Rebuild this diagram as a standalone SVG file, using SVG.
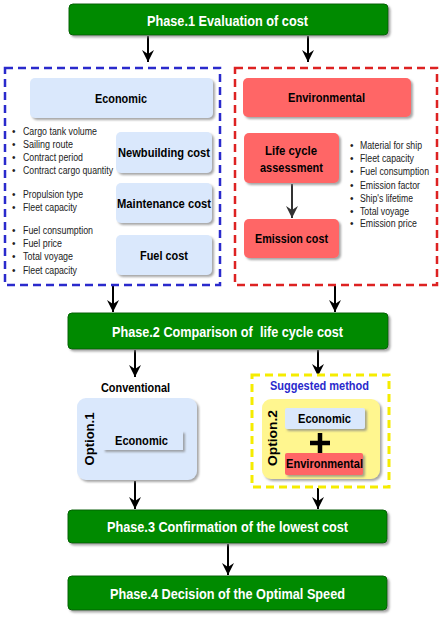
<svg xmlns="http://www.w3.org/2000/svg" width="443" height="620" viewBox="0 0 443 620">
<defs>
<filter id="sh" x="-10%" y="-10%" width="130%" height="140%">
<feDropShadow dx="2" dy="2" stdDeviation="0.8" flood-color="#808080" flood-opacity="0.7"/>
</filter>
<marker id="arr" markerUnits="userSpaceOnUse" markerWidth="14" markerHeight="14" viewBox="0 0 14 14" refX="12" refY="7" orient="auto">
<path d="M0,1 L12,7 L0,13 L4,7 Z" fill="#000"/>
</marker>
<marker id="arrg" markerUnits="userSpaceOnUse" markerWidth="14" markerHeight="14" viewBox="0 0 14 14" refX="12" refY="7" orient="auto">
<path d="M0,1 L12,7 L0,13 L4,7 Z" fill="#333"/>
</marker>
</defs>
<style>
text{font-family:"Liberation Sans",Arial,sans-serif;}
.phase{fill:#008a00;stroke:#006400;stroke-width:1;filter:url(#sh);}
.pt{fill:#fff;font-size:15px;font-weight:bold;text-anchor:middle;dominant-baseline:central;}
.blue{fill:#dae8fc;filter:url(#sh);}
.red{fill:#ff6666;filter:url(#sh);}
.bt{fill:#000;font-size:13px;font-weight:bold;text-anchor:middle;dominant-baseline:central;}
.bul{fill:#222;font-size:10px;dominant-baseline:central;}
.conn{stroke:#000;stroke-width:2;fill:none;marker-end:url(#arr);}
</style>
<rect width="443" height="620" fill="#fff"/>

<g id="connectors">
<line class="conn" x1="148" y1="36" x2="148" y2="62"/>
<line class="conn" x1="308" y1="36" x2="308" y2="62"/>
<line class="conn" x1="113" y1="286" x2="113" y2="312"/>
<line class="conn" x1="335" y1="286" x2="335" y2="312"/>
<line class="conn" x1="135" y1="350" x2="135" y2="377"/>
<line class="conn" x1="318" y1="350" x2="318" y2="376"/>
<line class="conn" x1="292" y1="184" x2="292" y2="218" style="stroke:#333;marker-end:url(#arrg)"/>
<line class="conn" x1="135" y1="481" x2="135" y2="509"/>
<line class="conn" x1="318" y1="488" x2="318" y2="509"/>
<line class="conn" x1="228" y1="544" x2="228" y2="575"/>
</g>

<g id="phase1">
<rect class="phase" x="69" y="4" width="319" height="31" rx="4"/>
<text class="pt" x="227.5" y="20" textLength="161" lengthAdjust="spacingAndGlyphs">Phase.1 Evaluation of cost</text>
</g>

<g id="economic-group">
<rect x="5" y="68" width="215" height="217" fill="none" stroke="#2a2acc" stroke-width="2.5" stroke-dasharray="8,5"/>
<g id="economic-header">
<rect class="blue" x="30" y="78" width="183" height="40" rx="5"/>
<text class="bt" x="121" y="98" textLength="52" lengthAdjust="spacingAndGlyphs">Economic</text>
</g>
<g id="newbuilding">
<rect class="blue" x="116" y="132" width="96" height="41" rx="5"/>
<text class="bt" x="164" y="152.5" textLength="92" lengthAdjust="spacingAndGlyphs">Newbuilding cost</text>
</g>
<g id="maintenance">
<rect class="blue" x="116" y="183" width="96" height="40" rx="5"/>
<text class="bt" x="164" y="203" textLength="94" lengthAdjust="spacingAndGlyphs">Maintenance cost</text>
</g>
<g id="fuel">
<rect class="blue" x="116" y="235" width="96" height="40" rx="5"/>
<text class="bt" x="164" y="255" textLength="48" lengthAdjust="spacingAndGlyphs">Fuel cost</text>
</g>
<g id="economic-bullets">
<text class="bul" x="12" y="131">•</text><text class="bul" x="23" y="131" textLength="74" lengthAdjust="spacingAndGlyphs">Cargo tank volume</text>
<text class="bul" x="12" y="144">•</text><text class="bul" x="23" y="144" textLength="50" lengthAdjust="spacingAndGlyphs">Sailing route</text>
<text class="bul" x="12" y="157">•</text><text class="bul" x="23" y="157" textLength="60" lengthAdjust="spacingAndGlyphs">Contract period</text>
<text class="bul" x="12" y="170">•</text><text class="bul" x="23" y="170" textLength="90" lengthAdjust="spacingAndGlyphs">Contract cargo quantity</text>
<text class="bul" x="12" y="194">•</text><text class="bul" x="23" y="194" textLength="60" lengthAdjust="spacingAndGlyphs">Propulsion type</text>
<text class="bul" x="12" y="207">•</text><text class="bul" x="23" y="207" textLength="54" lengthAdjust="spacingAndGlyphs">Fleet capacity</text>
<text class="bul" x="12" y="230">•</text><text class="bul" x="23" y="230" textLength="70" lengthAdjust="spacingAndGlyphs">Fuel consumption</text>
<text class="bul" x="12" y="243">•</text><text class="bul" x="23" y="243" textLength="39" lengthAdjust="spacingAndGlyphs">Fuel price</text>
<text class="bul" x="12" y="256">•</text><text class="bul" x="23" y="256" textLength="50" lengthAdjust="spacingAndGlyphs">Total voyage</text>
<text class="bul" x="12" y="270">•</text><text class="bul" x="23" y="270" textLength="54" lengthAdjust="spacingAndGlyphs">Fleet capacity</text>
</g>
</g>

<g id="environmental-group">
<rect x="235" y="68" width="202" height="217" fill="none" stroke="#dd2222" stroke-width="2.5" stroke-dasharray="8,5"/>
<g id="environmental-header">
<rect class="red" x="243" y="78" width="168" height="39" rx="5"/>
<text class="bt" x="326.5" y="97.5" textLength="77" lengthAdjust="spacingAndGlyphs">Environmental</text>
</g>
<g id="lca">
<rect class="red" x="244" y="133" width="95" height="50" rx="5"/>
<text class="bt" x="291" y="150" textLength="52" lengthAdjust="spacingAndGlyphs">Life cycle</text>
<text class="bt" x="291.5" y="167" textLength="63" lengthAdjust="spacingAndGlyphs">assessment</text>
</g>
<g id="emission">
<rect class="red" x="244" y="219" width="95" height="39" rx="5"/>
<text class="bt" x="291.5" y="238.5" textLength="73" lengthAdjust="spacingAndGlyphs">Emission cost</text>
</g>
<g id="environmental-bullets">
<text class="bul" x="350" y="145">•</text><text class="bul" x="360" y="145" textLength="62" lengthAdjust="spacingAndGlyphs">Material for ship</text>
<text class="bul" x="350" y="158">•</text><text class="bul" x="360" y="158" textLength="54" lengthAdjust="spacingAndGlyphs">Fleet capacity</text>
<text class="bul" x="350" y="171">•</text><text class="bul" x="360" y="171" textLength="69" lengthAdjust="spacingAndGlyphs">Fuel consumption</text>
<text class="bul" x="350" y="185">•</text><text class="bul" x="360" y="185" textLength="60" lengthAdjust="spacingAndGlyphs">Emission factor</text>
<text class="bul" x="350" y="198">•</text><text class="bul" x="360" y="198" textLength="53" lengthAdjust="spacingAndGlyphs">Ship's lifetime</text>
<text class="bul" x="350" y="211">•</text><text class="bul" x="360" y="211" textLength="49" lengthAdjust="spacingAndGlyphs">Total voyage</text>
<text class="bul" x="350" y="223">•</text><text class="bul" x="360" y="223" textLength="57" lengthAdjust="spacingAndGlyphs">Emission price</text>
</g>
</g>

<g id="phase2">
<rect class="phase" x="68" y="313" width="320" height="36" rx="4"/>
<text class="pt" x="227.5" y="331" xml:space="preserve" textLength="231" lengthAdjust="spacingAndGlyphs">Phase.2 Comparison of  life cycle cost</text>
</g>

<g id="option1">
<text class="bt" x="135.5" y="387" textLength="69" lengthAdjust="spacingAndGlyphs">Conventional</text>
<rect class="blue" x="77" y="398" width="120" height="82" rx="9"/>
<text class="bt" transform="translate(89,439) rotate(-90)" textLength="53" lengthAdjust="spacingAndGlyphs">Option.1</text>
<rect x="103" y="431" width="80" height="19" fill="#dae8fc" filter="url(#sh)"/>
<text class="bt" style="font-size:12px" x="141.5" y="440.5" textLength="53" lengthAdjust="spacingAndGlyphs">Economic</text>
</g>

<g id="option2">
<rect x="252" y="375" width="137" height="112" fill="none" stroke="#f5ec00" stroke-width="3" stroke-dasharray="8,5"/>
<text class="bt" style="fill:#2a2acc;font-size:12px" x="319.5" y="386" textLength="99" lengthAdjust="spacingAndGlyphs">Suggested method</text>
<rect x="262" y="399" width="118" height="80" rx="9" fill="#fff68f" filter="url(#sh)"/>
<text class="bt" transform="translate(272,438) rotate(-90)" textLength="56" lengthAdjust="spacingAndGlyphs">Option.2</text>
<rect x="285" y="408" width="80" height="21" rx="2" fill="#dae8fc" filter="url(#sh)"/>
<text class="bt" style="font-size:12px" x="324.5" y="418.5" textLength="53" lengthAdjust="spacingAndGlyphs">Economic</text>
<path d="M320,433 V453 M310,443 H330" stroke="#000" stroke-width="4.5" fill="none"/>
<rect x="285" y="453" width="78" height="22" rx="2" fill="#ff6666" filter="url(#sh)"/>
<text class="bt" style="font-size:12px" x="324.5" y="464" textLength="77" lengthAdjust="spacingAndGlyphs">Environmental</text>
</g>

<g id="phase3">
<rect class="phase" x="68" y="510" width="319" height="33" rx="4"/>
<text class="pt" x="227.5" y="526.5" textLength="241" lengthAdjust="spacingAndGlyphs">Phase.3 Confirmation of the lowest cost</text>
</g>

<g id="phase4">
<rect class="phase" x="68" y="576" width="319" height="34" rx="4"/>
<text class="pt" x="227.5" y="593" textLength="235" lengthAdjust="spacingAndGlyphs">Phase.4 Decision of the Optimal Speed</text>
</g>
</svg>
